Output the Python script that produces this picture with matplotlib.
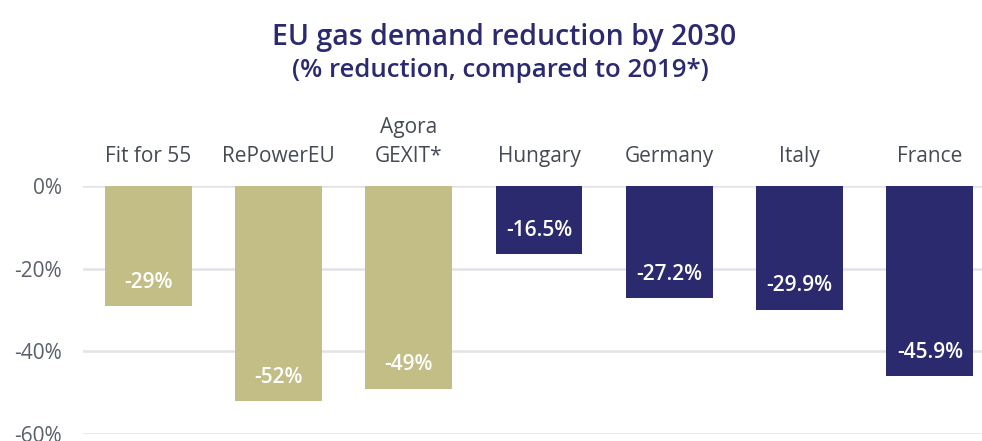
import matplotlib
matplotlib.use("Agg")
import matplotlib.pyplot as plt

# data
categories = ["Fit for 55", "RePowerEU", "Agora\nGEXIT*", "Hungary", "Germany", "Italy", "France"]
values = [-29, -52, -49, -16.5, -27.2, -29.9, -45.9]
value_labels = ["-29%", "-52%", "-49%", "-16.5%", "-27.2%", "-29.9%", "-45.9%"]
groups = ["eu", "eu", "eu", "country", "country", "country", "country"]
yticks = [0, -20, -40, -60]

olive = "#c3bd86"
navy = "#2b2a6e"
colors = [olive if g == "eu" else navy for g in groups]

plt.rcParams['font.family'] = ['Open Sans', 'DejaVu Sans']

fig = plt.figure(figsize=(9.82, 4.41), dpi=100)
ax = fig.add_axes([0.0845, 0.016, 0.9155, 0.562])

x = list(range(len(categories)))
ax.bar(x, values, width=0.667, color=colors, zorder=3)

# value labels near the bottom of each bar
for xi, v, lab in zip(x, values, value_labels):
    ax.annotate(lab, (xi, v), xytext=(0, 17), textcoords="offset points",
                ha="center", va="center", color="white", fontsize=15,
                fontweight="semibold", zorder=4)

ax.set_xlim(-0.5, 6.4)
ax.set_ylim(-60, 0)
ax.set_yticks(yticks)
ax.set_yticklabels([f"{t}%" for t in yticks])
ax.yaxis.grid(True, color="#e1e3e8", linewidth=1.8, zorder=0)
ax.tick_params(axis="y", length=0, pad=15, labelsize=15, labelcolor="#5a5f6e")

ax.xaxis.tick_top()
ax.set_xticks(x)
ax.set_xticklabels(categories, linespacing=1.45)
ax.tick_params(axis="x", length=0, pad=14, labelsize=15, labelcolor="#454a55")

for s in ax.spines.values():
    s.set_visible(False)

fig.text(0.513, 0.915, "EU gas demand reduction by 2030", ha="center", va="center",
         fontsize=20.5, color=navy, fontweight="semibold")
fig.text(0.51, 0.84, "(% reduction, compared to 2019*)", ha="center", va="center",
         fontsize=18.5, color=navy, fontweight="semibold")

fig.savefig("out.png", dpi=100)
